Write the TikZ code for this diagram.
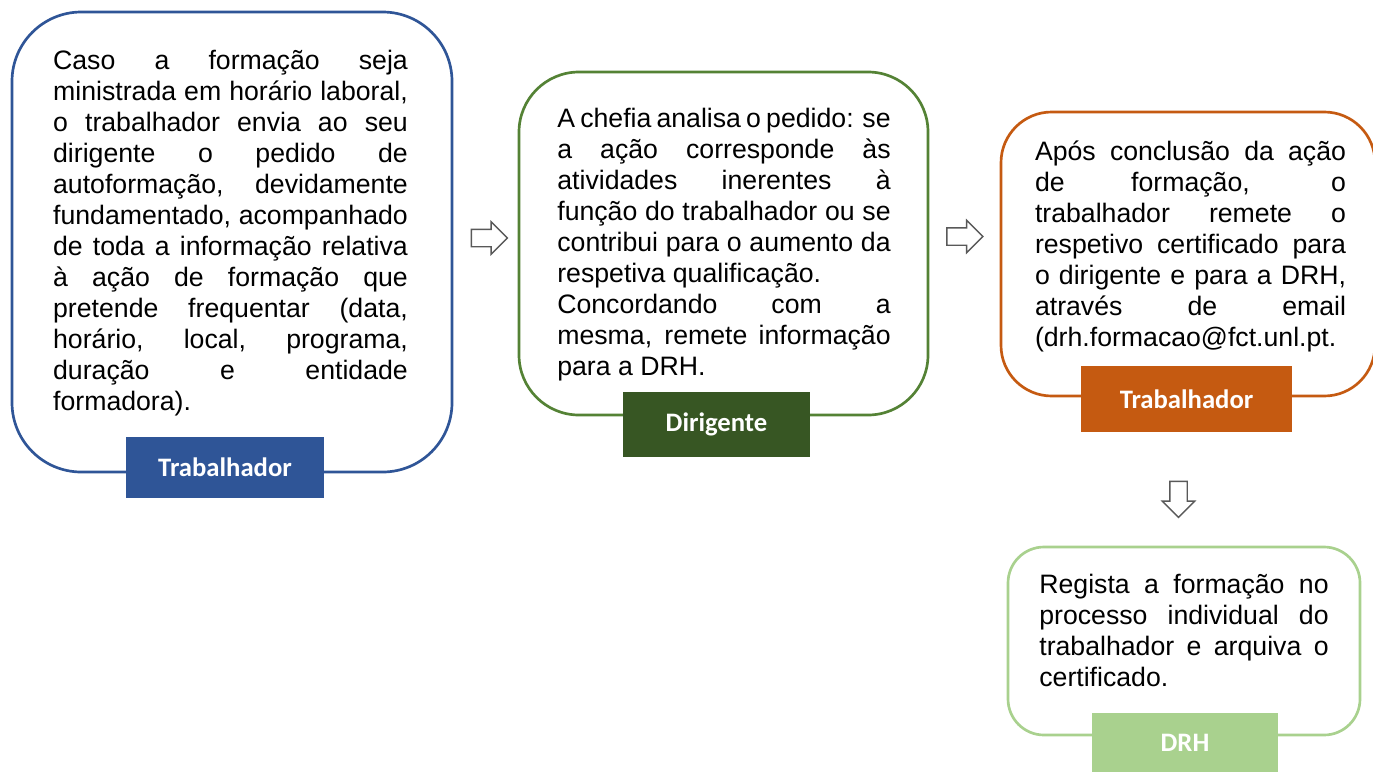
\documentclass[tikz,border=0pt]{standalone}
\usepackage{fontspec}
\setmainfont{Liberation Sans}
\newfontfamily\labelfont{Carlito}
\usepackage{xcolor}
\usetikzlibrary{shapes,arrows,positioning,calc,arrows.meta}
\definecolor{trabblue}{HTML}{2F5597}
\definecolor{chefgreen}{HTML}{548235}
\definecolor{chefdark}{HTML}{375623}
\definecolor{certorange}{HTML}{C55A11}
\definecolor{drhgreen}{HTML}{A9D18E}
\definecolor{flowgray}{HTML}{595959}
\tolerance=10000
\hbadness=10000
\hyphenpenalty=10000

\begin{document}
\begin{tikzpicture}[x=0.75pt, y=-0.75pt,
    stepbox/.style={draw=#1, line width=2pt, fill=white},
    steptext/.style={align=justify, inner sep=0pt, font=\fontsize{20}{23.25}\selectfont},
    rolebox/.style={fill=#1, text=white, inner sep=0pt, font=\labelfont\bfseries\fontsize{20}{24}\selectfont},
    flowarrow/.style={single arrow, draw=flowgray, line width=1.1pt, fill=white, inner sep=6pt,
        single arrow head extend=5.6pt, minimum height=27pt, minimum width=0pt}
]
    \useasboundingbox (0,0) rectangle (1373,771);

    % pedido do trabalhador
    \node[stepbox=trabblue, rounded corners=52pt, minimum width=330pt, minimum height=345pt] (b1) at (232,242) {};
    \node[steptext, text width=266pt] (t1) at (230.5,233.5) {Caso a formação seja\linebreak
        ministrada em horário laboral,\linebreak
        o trabalhador envia ao seu\linebreak
        dirigente o pedido de\linebreak
        autoformação, devidamente\linebreak
        fundamentado, acompanhado\linebreak
        de toda a informação relativa\linebreak
        à ação de formação que\linebreak
        pretende frequentar (data,\linebreak
        horário, local, programa,\linebreak
        duração e entidade\linebreak
        formadora).};
    \node[rolebox=trabblue, minimum width=148.5pt, minimum height=45.75pt] (l1) at (225,467.5) {Trabalhador};

    % analise da chefia
    \node[stepbox=chefgreen, rounded corners=45pt, minimum width=306.75pt, minimum height=257.25pt] (b2) at (723.5,243.5) {};
    \node[steptext, text width=250pt] (t2) at (724,245) {A chefia analisa o pedido: se\linebreak
        a ação corresponde às\linebreak
        atividades inerentes à\linebreak
        função do trabalhador ou se\linebreak
        contribui para o aumento da\linebreak
        respetiva qualificação.\newline
        Concordando com a\linebreak
        mesma, remete informação\linebreak
        para a DRH.};
    \node[rolebox=chefdark, minimum width=140.25pt, minimum height=48.75pt] (l2) at (716.5,424.5) {Dirigente};

    % envio do certificado
    \node[stepbox=certorange, rounded corners=38pt, minimum width=280.5pt, minimum height=213pt] (b3) at (1188,254) {};
    \node[steptext, text width=233.25pt] (t3) at (1190.5,246.5) {Após conclusão da ação\linebreak
        de formação, o\linebreak
        trabalhador remete o\linebreak
        respetivo certificado para\linebreak
        o dirigente e para a DRH,\linebreak
        através de email\linebreak
        (drh.formacao@fct.unl.pt.};
    \node[rolebox=certorange, minimum width=158.25pt, minimum height=49.5pt] (l3) at (1186.5,399) {Trabalhador};

    % registo pela DRH
    \node[stepbox=drhgreen, rounded corners=27pt, minimum width=264pt, minimum height=141pt] (b4) at (1184,641) {};
    \node[steptext, text width=217pt] (t4) at (1184,630.5) {Regista a formação no\linebreak
        processo individual do\linebreak
        trabalhador e arquiva o\linebreak
        certificado.};
    \node[rolebox=drhgreen, minimum width=139.5pt, minimum height=45pt] (l4) at (1185,743) {DRH};

    % setas entre os passos
    \node[flowarrow] (a1) at (485,238) {};
    \node[flowarrow] (a2) at (960.5,236.5) {};
    \node[flowarrow, shape border rotate=270] (a3) at (1178.5,495) {};
\end{tikzpicture}
\end{document}
